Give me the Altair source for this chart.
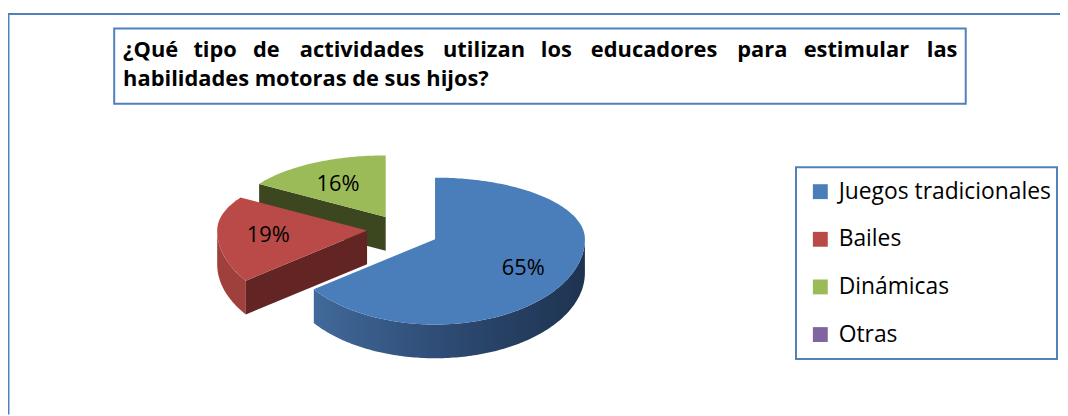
import math
import numpy as np
import pandas as pd
import altair as alt

# ---------------- data ----------------
categories = ["Juegos tradicionales", "Bailes", "Dinámicas", "Otras"]
percentages = [65, 19, 16, 0]

title_line1_words = ["¿Qué", "tipo", "de", "actividades", "utilizan", "los",
                     "educadores", "para", "estimular", "las"]
title_line2 = "habilidades motoras de sus hijos?"

# ---------------- layout / styles ----------------
# centre of every word of the justified first title line (view pixels)
title_word_centres = [143.7, 208.7, 260.2, 356.6, 479.6, 552.5, 651.0, 760.0, 854.8, 941.2]
top_colors = ["#4A7EBB", "#BA4A47", "#9BBB59", "#8064A2"]
outer_wall_colors = [None, "#9F403D", "#6F8A3A", "#5E4A7A"]   # None -> gradient
cut_wall_colors = ["#213754", "#632523", "#3C4720", "#3F3152"]
blue_wall_gradient = alt.Gradient(
    gradient="linear", x1=0, x2=1, y1=0, y2=0,
    stops=[alt.GradientStop(color="#41699A", offset=0),
           alt.GradientStop(color="#2D4A72", offset=0.5),
           alt.GradientStop(color="#1E3350", offset=1)])
BORDER = "#4F81BD"
FONT = "Open Sans"

# geometry of the pseudo-3D pie (page pixels); back half flatter than front half (perspective)
CX, CY = 406, 230
RX = 151
RY_BACK, RY_FRONT = 62, 86
DEPTH = 34
EXPLODE = 0.24
LABEL_R = 0.66
LABEL_DY = 3

W, H = 1052, 400
X0, Y0 = 8, 8


def ept(cx, cy, deg, r=1.0, dz=0.0):
    t = math.radians(deg)
    c = math.cos(t)
    ry = RY_BACK if c > 0 else RY_FRONT
    return cx + r * RX * math.sin(t), cy - r * ry * c + dz


total = float(sum(percentages))
start = 0.0
top_rows, wall_rows, label_rows = [], [], []
wall_layers = []  # (pid, fill)
slice_info = []
for i, (cat, val) in enumerate(zip(categories, percentages)):
    span = 360.0 * val / total
    s, e = start, start + span
    start = e
    if val <= 0:
        continue
    m = (s + e) / 2
    cx, cy = ept(CX, CY, m, EXPLODE)
    slice_info.append((cy, i, cat, s, e, m, cx))

# back-to-front order
slice_info.sort()
for cy, i, cat, s, e, m, cx in slice_info:
    pts = [(cx, cy)]
    for a in np.linspace(s, e, max(3, int(e - s) + 1)):
        pts.append(ept(cx, cy, a))
    pts.append((cx, cy))
    for k, (x, y) in enumerate(pts):
        top_rows.append({"cat": cat, "pid": f"top{i}", "ord": k, "x": x, "y": y})
    a0, a1 = max(s, 90.0), min(e, 270.0)
    if a0 < a1:
        arc = list(np.linspace(a0, a1, max(3, int(a1 - a0) + 1)))
        pts = [ept(cx, cy, a) for a in arc] + [ept(cx, cy, a, 1.0, DEPTH) for a in arc[::-1]]
        pid = f"outer{i}"
        for k, (x, y) in enumerate(pts):
            wall_rows.append({"pid": pid, "ord": k, "x": x, "y": y})
        fill = outer_wall_colors[i] if outer_wall_colors[i] else blue_wall_gradient
        wall_layers.append((pid, fill))
    for ang, vis in ((s, math.sin(math.radians(s)) < -1e-6), (e, math.sin(math.radians(e)) > 1e-6)):
        if not vis:
            continue
        ox, oy = ept(cx, cy, ang)
        pts = [(cx, cy), (ox, oy), (ox, oy + DEPTH), (cx, cy + DEPTH)]
        pid = f"cut{i}_{int(ang)}"
        for k, (x, y) in enumerate(pts):
            wall_rows.append({"pid": pid, "ord": k, "x": x, "y": y})
        wall_layers.append((pid, cut_wall_colors[i]))
    lx, ly = ept(cx, cy, m, LABEL_R)
    label_rows.append({"x": lx, "y": ly + LABEL_DY, "txt": f"{percentages[i]}%"})

top_df = pd.DataFrame(top_rows)
wall_df = pd.DataFrame(wall_rows)
label_df = pd.DataFrame(label_rows)

xs = alt.Scale(domain=[X0, X0 + W], nice=False, zero=False)
ys = alt.Scale(domain=[Y0, Y0 + H], nice=False, zero=False, reverse=True)
X = lambda: alt.X("x:Q", scale=xs, axis=None)
Y = lambda: alt.Y("y:Q", scale=ys, axis=None)

one = pd.DataFrame({"k": [0]})

layers = []
# outer frame (top and left edges)
layers.append(alt.Chart(one).mark_rule(color=BORDER, strokeWidth=2).encode(
    x=alt.value(0), x2=alt.value(W + 8), y=alt.value(4.5)))
layers.append(alt.Chart(one).mark_rule(color=BORDER, strokeWidth=2).encode(
    x=alt.value(0.5), y=alt.value(4.5), y2=alt.value(H + 8)))

# title box + text
layers.append(alt.Chart(one).mark_rect(fill="white", stroke=BORDER, strokeWidth=2).encode(
    x=alt.value(107), x2=alt.value(965), y=alt.value(19), y2=alt.value(95)))
t_common = dict(font=FONT, fontSize=22, fontWeight="bold", color="black", baseline="alphabetic")
word_df = pd.DataFrame({"w": title_line1_words, "cx": title_word_centres})
layers.append(alt.Chart(word_df).mark_text(align="center", **t_common).encode(
    x=alt.X("cx:Q", scale=None, axis=None), y=alt.value(47.5), text="w:N"))
layers.append(alt.Chart(one).mark_text(align="left", **t_common).encode(
    x=alt.value(116), y=alt.value(77.5), text=alt.value(title_line2)))

# legend box
layers.append(alt.Chart(one).mark_rect(fill="white", stroke=BORDER, strokeWidth=2).encode(
    x=alt.value(794), x2=alt.value(1057), y=alt.value(159), y2=alt.value(352)))

# pie walls
for pid, fill in wall_layers:
    layers.append(alt.Chart(wall_df).transform_filter(alt.datum.pid == pid).mark_line(
        fill=fill, strokeWidth=0, interpolate="linear").encode(
        x=X(), y=Y(), order="ord:Q", detail="pid:N"))

# pie top faces (carry the legend)
layers.append(alt.Chart(top_df).mark_line(strokeWidth=0).encode(
    x=X(), y=Y(), order="ord:Q", detail="pid:N",
    fill=alt.Fill("cat:N", scale=alt.Scale(domain=categories, range=top_colors),
                  legend=alt.Legend(title=None, orient="none", legendX=807, legendY=172,
                                    symbolType="square", symbolSize=225, symbolStrokeWidth=0,
                                    labelFont=FONT, labelFontSize=23, labelColor="black",
                                    labelOffset=7, rowPadding=24, labelLimit=400, padding=0))))

# percent labels
layers.append(alt.Chart(label_df).mark_text(font=FONT, fontSize=22, color="black",
                                            align="center", baseline="middle").encode(
    x=X(), y=Y(), text="txt:N"))

chart = alt.layer(*layers).properties(
    width=W, height=H, autosize=alt.AutoSizeParams(type="none"),
    padding={"left": 0, "top": 0, "right": 8, "bottom": 8}, background="white"
).configure_view(strokeWidth=0)

chart.save("out.html", embed_options={"renderer": "svg", "actions": False})
